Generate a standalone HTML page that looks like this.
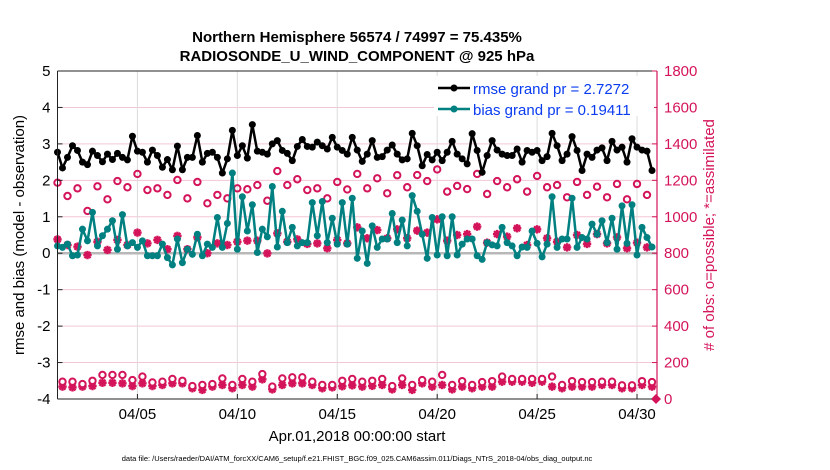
<!DOCTYPE html>
<html><head><meta charset="utf-8"><style>
body{margin:0;background:#fff}
svg{display:block;font-family:"Liberation Sans",Arial,sans-serif}
</style></head><body>
<svg id="chart" width="830" height="470" viewBox="0 0 830 470">
<text x="357" y="42" text-anchor="middle" font-size="15" font-weight="bold">Northern Hemisphere 56574 / 74997 = 75.435%</text>
<text x="357" y="61" text-anchor="middle" font-size="15" font-weight="bold">RADIOSONDE_U_WIND_COMPONENT @ 925 hPa</text>
<g id="grid"></g>
<g id="marks"></g>
<g id="axes"></g>
<text transform="translate(24,235) rotate(-90)" text-anchor="middle" font-size="15">rmse and bias (model - observation)</text>
<text transform="translate(714,235) rotate(-90)" text-anchor="middle" font-size="15" fill="#d4145a"># of obs: o=possible; *=assimilated</text>
<text x="357" y="441" text-anchor="middle" font-size="15">Apr.01,2018 00:00:00 start</text>
<text x="357" y="461" text-anchor="middle" font-size="7.5">data file: /Users/raeder/DAI/ATM_forcXX/CAM6_setup/f.e21.FHIST_BGC.f09_025.CAM6assim.011/Diags_NTrS_2018-04/obs_diag_output.nc</text>
<g>
<rect x="434" y="76" width="220" height="40" fill="#fff"/>
<line x1="438" y1="88" x2="470" y2="88" stroke="#000" stroke-width="2.5"/>
<circle cx="454" cy="88" r="3.5" fill="#000"/>
<text x="473" y="94" font-size="15" fill="#0a3cf0">rmse grand pr = 2.7272</text>
<line x1="438" y1="109" x2="470" y2="109" stroke="#008080" stroke-width="2.5"/>
<circle cx="454" cy="109" r="3.5" fill="#008080"/>
<text x="473" y="115" font-size="15" fill="#0a3cf0">bias grand pr = 0.19411</text>
</g>
</svg>
<script>
const xTicks=[4,9,14,19,24,29];
const xTickLabels=["04/05","04/10","04/15","04/20","04/25","04/30"];
const yTicks=[-4,-3,-2,-1,0,1,2,3,4,5];
const y2Ticks=[0,200,400,600,800,1000,1200,1400,1600,1800];
const rmse=[2.77,2.34,2.63,2.95,2.82,2.5,2.43,2.8,2.68,2.51,2.72,2.57,2.74,2.63,2.56,3.21,2.8,2.77,2.5,2.83,2.68,2.36,2.57,2.29,2.94,2.29,2.63,2.63,3.23,2.5,2.74,2.77,2.63,2.2,2.59,3.37,2.68,2.95,2.61,3.53,2.8,2.77,
2.72,3.0,3.09,2.82,2.74,2.54,2.93,3.12,2.93,2.91,3.05,2.95,2.86,3.18,2.91,2.82,2.72,3.18,2.83,2.52,2.72,3.09,2.63,2.65,2.83,2.97,2.72,2.56,2.59,3.29,2.95,2.4,2.71,2.56,2.77,2.54,2.77,3.07,2.72,2.59,
2.45,3.28,2.82,2.22,2.68,3.09,2.83,2.72,2.68,2.68,2.86,2.5,2.82,2.77,2.82,2.54,2.65,3.29,2.95,2.54,2.72,3.2,2.82,2.27,2.72,2.63,2.83,2.89,2.54,3.07,2.83,2.91,2.5,3.14,2.91,2.83,2.8,2.27];
const bias=[0.2,0.16,0.25,-0.07,-0.05,0.66,0.34,1.12,0.2,0.48,0.66,0.89,0.11,1.06,0.2,0.29,0.16,0.34,-0.07,-0.07,-0.07,0.25,-0.12,-0.32,0.39,-0.26,0.11,-0.03,0.52,-0.07,0.25,0.16,0.98,0.16,0.82,2.2,0.11,1.55,0.61,1.33,0.02,0.66,
0.45,1.83,0.17,1.15,0.29,0.71,0.2,0.29,0.29,1.39,0.48,1.42,0.29,0.96,0.25,1.39,0.25,1.51,-0.14,0.61,-0.28,0.75,0.16,0.39,0.39,1.09,0.29,0.91,0.2,1.58,1.15,0.52,-0.14,0.98,-0.05,1.0,-0.07,1.0,-0.05,0.25,
0.39,0.39,-0.07,-0.17,0.29,0.23,0.2,0.71,0.29,0.2,-0.07,0.17,0.16,0.61,0.27,-0.1,0.25,1.55,0.16,0.39,0.39,1.51,0.16,0.43,0.39,0.8,0.52,0.89,0.29,0.96,0.11,1.3,0.27,1.33,-0.05,0.71,0.43,0.17];
const possHi=[1187,1114,1156,1032,1167,1096,1196,1162,1235,1147,1156,1120,1202,1101,1191,1074,1120,1101,1156,1151,1174,
1088,1251,1174,1206,1147,1156,1101,1191,1150,1235,1156,1211,1129,1228,1162,1229,1196,1260,1138,1169,
1152,1235,1125,1196,1162,1206,1138,1224,1162,1174,1107,1191,1120,1165,1107,1180,1096,1180,1120];
const usedHi=[876,845,836,790,863,818,873,845,913,854,873,822,895,822,887,800,854,845,863,869,869,
799,909,863,876,851,854,827,873,854,942,882,927,882,931,882,924,913,986,869,900,
905,946,858,905,891,937,845,931,882,863,832,900,851,905,854,887,827,858,832];
const possLo=[95,95,82,100,132,132,132,104,123,91,95,110,100,71,77,82,113,77,110,95,137,68,113,119,119,95,77,77,
100,110,95,100,
110,71,113,77,104,95,132,77,98,77,93,98,123,110,110,110,110,123,77,98,93,93,95,95,75,75,98,93];
const usedLo=[68,64,68,71,89,89,86,71,86,71,77,86,86,59,50,68,77,59,77,68,108,53,77,86,86,77,59,64,
70,75,68,72,
77,53,77,50,86,68,77,53,68,59,68,68,95,95,95,89,95,68,59,68,68,68,77,77,59,59,77,68];
const endCount=[0];

const NS="http://www.w3.org/2000/svg";
const L=57.5,R=657,T=71,B=399;
const xs=d=>L+(d/30)*(R-L);
const ys=v=>T+(5-v)/9*(B-T);
const y2=c=>B-c/1800*(B-T);
const RED="#d4145a",TEAL="#008080";
function mk(tag,attrs,parent){const e=document.createElementNS(NS,tag);for(const k in attrs)e.setAttribute(k,attrs[k]);parent.appendChild(e);return e;}
const grid=document.getElementById('grid'),marks=document.getElementById('marks'),axes=document.getElementById('axes');
y2Ticks.forEach(c=>{const e=mk('line',{x1:L,x2:R,y1:y2(c),y2:y2(c),stroke:'#f3c6d6','stroke-width':1},grid);

});
xTicks.forEach(d=>{const e=mk('line',{x1:xs(d),x2:xs(d),y1:T,y2:B,stroke:'#dcdcdc','stroke-width':1},grid);

});
const z=mk('line',{x1:L,x2:R,y1:ys(0),y2:ys(0),stroke:'#b8b8b8','stroke-width':2.5},grid);


function star(cx,cy,p){const g=mk('g',{},p);const s=4.2;
[[s,0],[0,s],[s*.72,s*.72],[s*.72,-s*.72]].forEach(([a,b])=>mk('line',{x1:cx-a,y1:cy-b,x2:cx+a,y2:cy+b,stroke:RED,'stroke-width':2.4},g));return g;}
possHi.forEach((c,i)=>{const e=mk('circle',{cx:xs(i*0.5),cy:y2(c),r:3.2,fill:'none',stroke:RED,'stroke-width':2},marks);

});
usedHi.forEach((c,i)=>{const e=star(xs(i*0.5),y2(c),marks);

});
usedLo.forEach((c,i)=>{const e=star(xs(0.25+i*0.5),y2(c),marks);

});
possLo.forEach((c,i)=>{const e=mk('circle',{cx:xs(0.25+i*0.5),cy:y2(c),r:3.2,fill:'#fff',stroke:RED,'stroke-width':2},marks);

});
const dm=mk('path',{d:`M${xs(29.95)-5},${y2(endCount[0])}l5,-5l5,5l-5,5z`,fill:RED},marks);


function series(vals,color,name){
const pts=vals.map((v,i)=>xs(i*0.25).toFixed(1)+','+ys(v).toFixed(1)).join(' ');
const pl=mk('polyline',{points:pts,fill:'none',stroke:color,'stroke-width':2.5,'stroke-linejoin':'round'},marks);


vals.forEach((v,i)=>{const c=mk('circle',{cx:xs(i*0.25),cy:ys(v),r:3.5,fill:color},marks);

});}
series(bias,TEAL,'bias');
series(rmse,'#000','rmse');
mk('line',{x1:L,x2:L,y1:T,y2:B,stroke:'#222','stroke-width':1},axes);
mk('line',{x1:L,x2:R,y1:T,y2:T,stroke:'#222','stroke-width':1},axes);
mk('line',{x1:L,x2:R,y1:B,y2:B,stroke:'#222','stroke-width':1},axes);
mk('line',{x1:R,x2:R,y1:T,y2:B,stroke:RED,'stroke-width':1.2},axes);
yTicks.forEach(v=>{mk('line',{x1:L,x2:L+5,y1:ys(v),y2:ys(v),stroke:'#222'},axes);
const t=mk('text',{x:L-7,y:ys(v)+5,'text-anchor':'end','font-size':15},axes);t.textContent=v;

});
y2Ticks.forEach(c=>{mk('line',{x1:R-5,x2:R,y1:y2(c),y2:y2(c),stroke:RED},axes);
const t=mk('text',{x:R+7,y:y2(c)+5,'font-size':15,fill:RED},axes);t.textContent=c;

});
xTicks.forEach((d,i)=>{mk('line',{x1:xs(d),x2:xs(d),y1:B,y2:B-5,stroke:'#222'},axes);
const t=mk('text',{x:xs(d),y:B+20,'text-anchor':'middle','font-size':15},axes);t.textContent=xTickLabels[i];

});
</script>
</body></html>
